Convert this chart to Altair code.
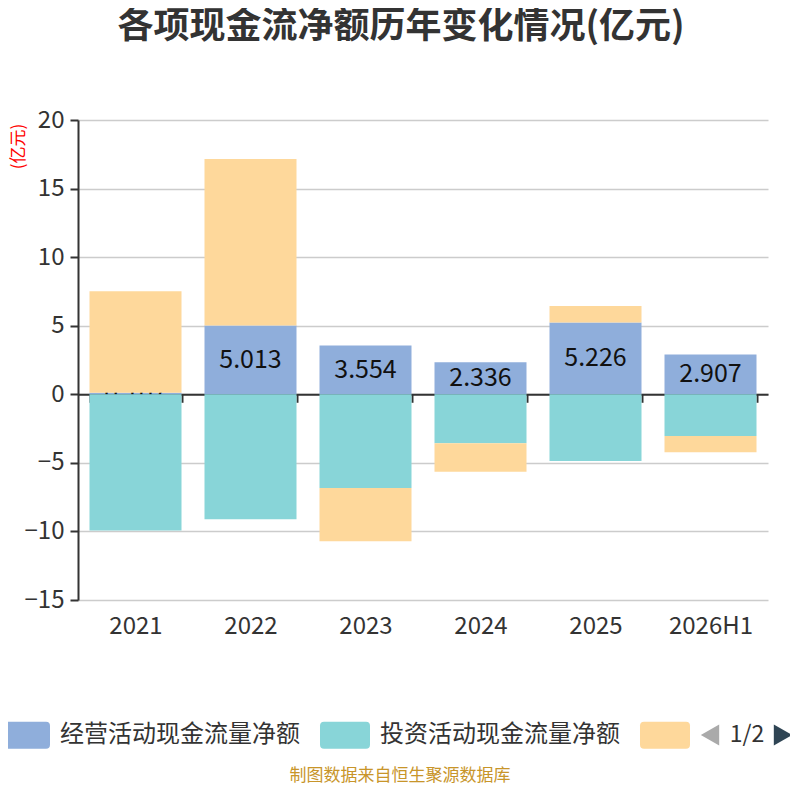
import altair as alt
import pandas as pd

years = ["2021", "2022", "2023", "2024", "2025", "2026H1"]
series_names = ["经营活动现金流量净额", "投资活动现金流量净额", "筹资活动现金流量净额"]
operating = [0.107, 5.013, 3.554, 2.336, 5.226, 2.907]
investing = [-9.93, -9.11, -6.84, -3.57, -4.86, -3.04]
financing = [7.40, 12.14, -3.88, -2.08, 1.22, -1.18]
colors = ["#8faedb", "#88d5d8", "#fed89b"]
y_ticks = [-15, -10, -5, 0, 5, 10, 15, 20]

rows = []
for i, y in enumerate(years):
    for k, (name, vals) in enumerate(zip(series_names, [operating, investing, financing])):
        rows.append({"year": y, "series": name, "value": vals[i], "order": k,
                     "label": f"{vals[i]:.3f}"})
df = pd.DataFrame(rows)

FONT = "Noto Sans CJK SC"
W, H = 690, 480
zero_off = -(H * 15 / 35)

legend_path = ("M-0.84,-0.54 H0.84 Q1,-0.54 1,-0.38 V0.38 Q1,0.54 0.84,0.54 "
               "H-0.84 Q-1,0.54 -1,0.38 V-0.38 Q-1,-0.54 -0.84,-0.54 Z")

base = alt.Chart(df).transform_stack(
    stack="value", groupby=["year"], as_=["v0", "v1"],
    sort=[alt.SortField("order", order="ascending")], offset="zero"
)

x_enc = alt.X("year:N", sort=years,
              scale=alt.Scale(paddingInner=0.2, paddingOuter=0.1),
              axis=alt.Axis(title=None, offset=zero_off, tickBand="extent",
                            labelPadding=212, domainColor="#333", domainWidth=2,
                            tickColor="#333", tickWidth=2, tickSize=8,
                            labelFontSize=24, labelColor="#333", labelFont=FONT,
                            labelAngle=0, grid=False))
y_enc = alt.Y("v0:Q", scale=alt.Scale(domain=[-15, 20], nice=False, zero=False),
              axis=alt.Axis(values=y_ticks, title="(亿元)", titleColor="red",
                            titleFontSize=17, titleFontWeight="normal", titleFont=FONT,
                            titleAngle=270, titleX=-60, titleY=26,
                            titleAlign="center", titleBaseline="middle",
                            grid=True, gridColor="#cccccc", gridWidth=1.5,
                            domainColor="#333", domainWidth=2, tickColor="#333",
                            tickWidth=2, tickSize=8, labelFontSize=24,
                            labelColor="#333", labelFont=FONT, labelPadding=6))
color_enc = alt.Color("series:N",
                      scale=alt.Scale(domain=series_names, range=colors),
                      legend=alt.Legend(orient="none", legendX=-78, legendY=590,
                                        direction="horizontal", title=None,
                                        symbolType=legend_path, symbolSize=2500,
                                        symbolStrokeWidth=0, symbolOpacity=1,
                                        labelFontSize=24, labelColor="#333",
                                        labelFont=FONT, labelOffset=10,
                                        labelLimit=400, columnPadding=20,
                                        labelExpr="datum.label == '筹资活动现金流量净额' ? '' : datum.label"))

op_bars = base.transform_filter(alt.datum.order == 0).mark_bar(opacity=1).encode(
    x=x_enc, y=y_enc, y2="v1:Q", color=color_enc)

labels = base.transform_filter(alt.datum.order == 0).transform_calculate(
    mid="(datum.v0 + datum.v1) / 2"
).mark_text(font=FONT, fontSize=25, color="#111", baseline="middle").encode(
    x=alt.X("year:N", sort=years), y=alt.Y("mid:Q"), text="label:N")

other_bars = base.transform_filter(alt.datum.order > 0).mark_bar(opacity=1).encode(
    x=alt.X("year:N", sort=years), y="v0:Q", y2="v1:Q", color=color_enc)

pager_df = pd.DataFrame({"t": ["1/2"]})
pager_text = alt.Chart(pager_df).mark_text(font=FONT, fontSize=23, color="#333",
                                           baseline="middle", align="center").encode(
    x=alt.value(669), y=alt.value(615), text="t:N")
pager_left = alt.Chart(pager_df).mark_point(shape="triangle-left", filled=True,
                                            color="#aaaaaa", opacity=1, size=450).encode(
    x=alt.value(632), y=alt.value(615))
pager_right = alt.Chart(pager_df).mark_point(shape="triangle-right", filled=True,
                                             color="#2f4554", opacity=1, size=450).encode(
    x=alt.value(705), y=alt.value(615))

footer_df = pd.DataFrame({"t": ["制图数据来自恒生聚源数据库"]})
footer = alt.Chart(footer_df).mark_text(font=FONT, fontSize=17, color="#c8952a",
                                        baseline="middle", align="center").encode(
    x=alt.value(322), y=alt.value(656), text="t:N")

chart = alt.layer(op_bars, labels, other_bars, pager_text, pager_left, pager_right, footer).properties(
    width=W, height=H,
    title=alt.TitleParams("各项现金流净额历年变化情况(亿元)", font=FONT, fontSize=36,
                          fontWeight="bold", color="#333", anchor="middle",
                          dx=-22, offset=62),
    autosize=alt.AutoSizeParams(type="none"),
    padding={"left": 70, "top": 112, "right": 22, "bottom": 187},
).configure(background="white", view=alt.ViewConfig(stroke=None))

chart.save("out.html", embed_options={"renderer": "svg", "actions": False})
